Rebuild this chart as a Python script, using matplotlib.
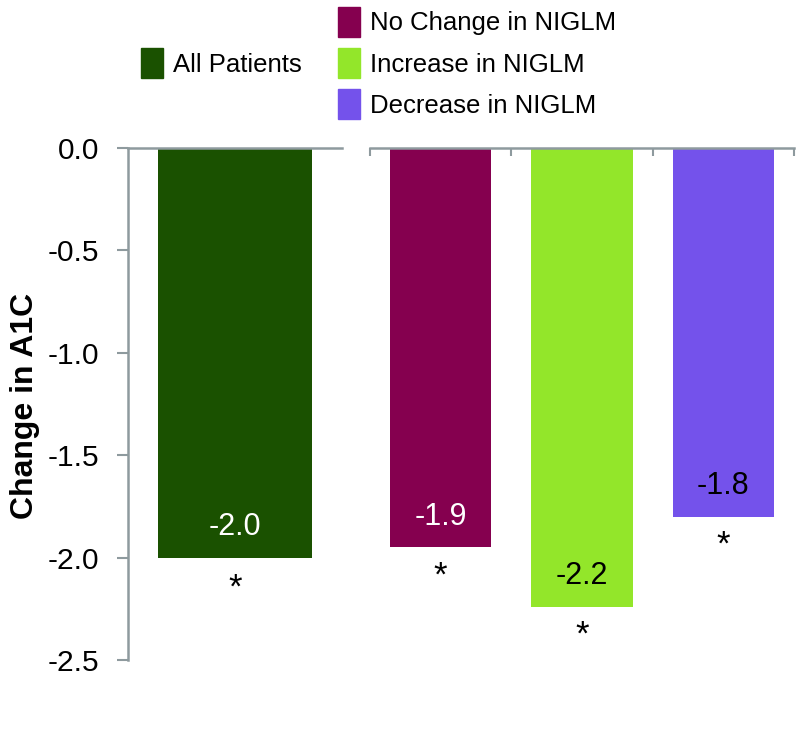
import matplotlib
matplotlib.use("Agg")
import matplotlib.pyplot as plt
from matplotlib.patches import Patch

plt.rcParams['font.family'] = ['Liberation Sans', 'DejaVu Sans']

# Data
all_label = "All Patients"
all_value = -2.0
all_text = "-2.0"
sub_labels = ["No Change in NIGLM", "Increase in NIGLM", "Decrease in NIGLM"]
sub_values = [-1.95, -2.24, -1.8]
sub_texts = ["-1.9", "-2.2", "-1.8"]
y_ticks = [0.0, -0.5, -1.0, -1.5, -2.0, -2.5]
y_tick_labels = ["0.0", "-0.5", "-1.0", "-1.5", "-2.0", "-2.5"]

all_color = "#1a5100"
sub_colors = ["#85004f", "#93e62a", "#7452eb"]
text_colors = ["white", "black", "black"]
gray = "#8e9a9e"

fig = plt.figure(figsize=(7.96, 7.4), dpi=100)
W, H = 796, 740

def fax(x0, y0, x1, y1):
    return fig.add_axes([x0 / W, 1 - y1 / H, (x1 - x0) / W, (y1 - y0) / H])

axL = fax(128, 148, 342, 660)
axR = fax(370, 148, 794, 660)

# Left panel
axL.bar([0.5], [all_value], width=0.715, color=all_color)
axL.set_xlim(0, 1)
axL.set_ylim(-2.5, 0)
axL.text(0.5, all_value + 0.15, all_text, ha='center', va='center', fontsize=22, color='white')
axL.text(0.5, all_value - 0.15, "*", ha='center', va='center', fontsize=25, color='black')
axL.set_yticks(y_ticks)
axL.set_yticklabels(y_tick_labels, fontsize=21.5)
axL.tick_params(axis='y', direction='out', length=8, width=1.5, color=gray, pad=13)
axL.set_xticks([])
for s in ['right', 'bottom']:
    axL.spines[s].set_visible(False)
for s in ['left', 'top']:
    axL.spines[s].set_color(gray)
    axL.spines[s].set_linewidth(1.8)
axL.set_ylabel("Change in A1C", fontsize=23, fontweight='bold')
axL.yaxis.set_label_coords(-0.41, 0.496)

# Right panel
xs = [0.5 + i for i in range(len(sub_values))]
axR.bar(xs, sub_values, width=0.715, color=sub_colors)
axR.set_xlim(0, 3)
axR.set_ylim(-2.5, 0)
for x, v, t, c in zip(xs, sub_values, sub_texts, text_colors):
    axR.text(x, v + 0.15, t, ha='center', va='center', fontsize=22, color=c)
    axR.text(x, v - 0.14, "*", ha='center', va='center', fontsize=25, color='black')
axR.set_yticks([])
axR.set_xticks([0, 1, 2, 3])
axR.set_xticklabels([])
axR.xaxis.set_ticks_position('top')
axR.tick_params(axis='x', direction='in', length=6, width=1.5, color=gray)
for s in ['right', 'bottom', 'left']:
    axR.spines[s].set_visible(False)
axR.spines['top'].set_color(gray)
axR.spines['top'].set_linewidth(1.8)

# Legends
legL = fig.legend(handles=[Patch(color=all_color, label=all_label)],
                  loc='center left', bbox_to_anchor=(141 / W, 1 - 63 / H),
                  frameon=False, fontsize=18.5, handlelength=0.85, handleheight=1.4,
                  handletextpad=0.4, borderpad=0, borderaxespad=0)
legR = fig.legend(handles=[Patch(color=c, label=l) for c, l in zip(sub_colors, sub_labels)],
                  loc='center left', bbox_to_anchor=(338 / W, 1 - 63 / H),
                  frameon=False, fontsize=18.5, handlelength=0.85, handleheight=1.4,
                  handletextpad=0.4, labelspacing=0.45, borderpad=0, borderaxespad=0)

fig.savefig("out.png", dpi=100)
